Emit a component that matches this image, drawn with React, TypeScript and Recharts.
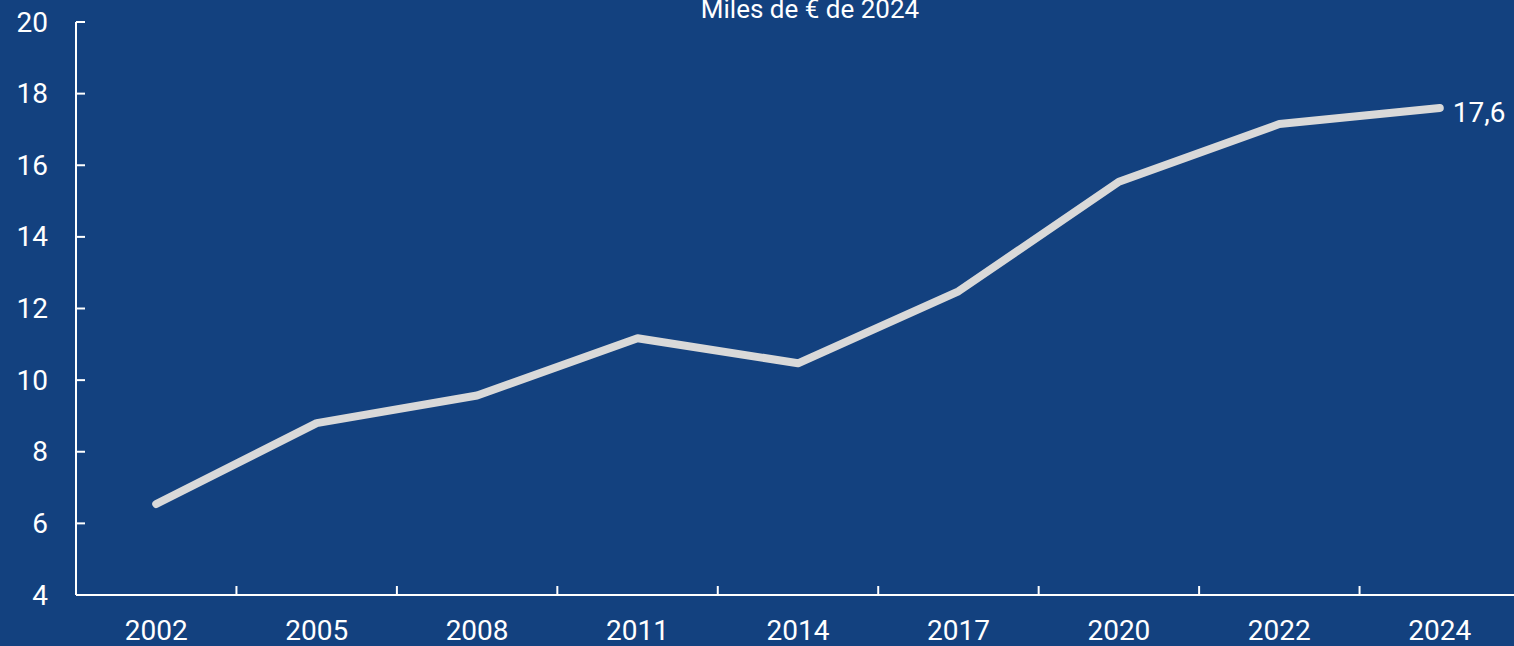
import React from "react";
import { LineChart, Line, XAxis, YAxis } from "recharts";

const years = ["2002", "2005", "2008", "2011", "2014", "2017", "2020", "2022", "2024"];
const values = [6.54, 8.8, 9.57, 11.17, 10.47, 12.48, 15.54, 17.15, 17.6];
const yTicks = [4, 6, 8, 10, 12, 14, 16, 18, 20];

const data = years.map((year, i) => ({ year, value: values[i] }));

const BG = "#13417F";
const FONT = "Roboto, 'Noto Sans', sans-serif";
const CHART_W = 1520;
const CHART_H = 646;
const Y_AXIS_W = 76;
const X_AXIS_H = 51;
const BAND = (CHART_W - Y_AXIS_W) / years.length;

// @ts-ignore
const YTick = ({ x, y, payload }) => {
  const axisX = x + 28;
  return (
    <g>
      <line x1={axisX} x2={axisX + 9} y1={y} y2={y} stroke="#fff" strokeWidth={2} />
      <text
        x={x}
        y={y}
        textAnchor="end"
        dominantBaseline="central"
        fill="#fff"
        fontSize={28}
        fontFamily={FONT}
      >
        {payload.value}
      </text>
    </g>
  );
};

// @ts-ignore
const XTick = ({ x, y, payload, index }) => {
  const axisY = y;
  return (
    <g>
      {index > 0 && (
        <line
          x1={x - BAND / 2}
          x2={x - BAND / 2}
          y1={axisY}
          y2={axisY - 9}
          stroke="#fff"
          strokeWidth={2}
        />
      )}
      <text x={x} y={axisY + 45} textAnchor="middle" fill="#fff" fontSize={28} fontFamily={FONT}>
        {payload.value}
      </text>
    </g>
  );
};

// @ts-ignore
const LastLabel = ({ x, y, index, value }) => {
  if (index !== values.length - 1) return null;
  return (
    <text x={x + 13} y={y + 14} fill="#fff" fontSize={28} fontFamily={FONT}>
      {String(value).replace(".", ",")}
    </text>
  );
};

const App = () => {
  return (
    <div
      style={{
        position: "fixed",
        left: 0,
        top: 0,
        width: 1514,
        height: 646,
        overflow: "hidden",
        background: BG,
      }}
    >
      <LineChart
        width={CHART_W}
        height={CHART_H}
        data={data}
        margin={{ top: 22, right: 0, bottom: 0, left: 0 }}
      >
        <XAxis
          dataKey="year"
          height={X_AXIS_H}
          padding={{ left: BAND / 2, right: BAND / 2 }}
          axisLine={{ stroke: "#fff", strokeWidth: 2 }}
          tickLine={false}
          tickSize={0}
          tickMargin={0}
          interval={0}
          tick={<XTick />}
        />
        <YAxis
          width={Y_AXIS_W}
          domain={[4, 20]}
          ticks={yTicks}
          interval={0}
          axisLine={{ stroke: "#fff", strokeWidth: 2 }}
          tickLine={false}
          tickSize={0}
          tickMargin={28}
          tick={<YTick />}
        />
        <Line
          dataKey="value"
          stroke="#D9D9D9"
          strokeWidth={8}
          strokeLinecap="round"
          strokeLinejoin="round"
          dot={false}
          activeDot={false}
          isAnimationActive={false}
          label={<LastLabel />}
        />
      </LineChart>
      <svg
        width={1514}
        height={40}
        style={{ position: "absolute", left: 0, top: 0, pointerEvents: "none" }}
      >
        <text x={810} y={18} textAnchor="middle" fill="#fff" fontSize={26} fontFamily={FONT}>
          Miles de € de 2024
        </text>
      </svg>
    </div>
  );
};

export default App;
